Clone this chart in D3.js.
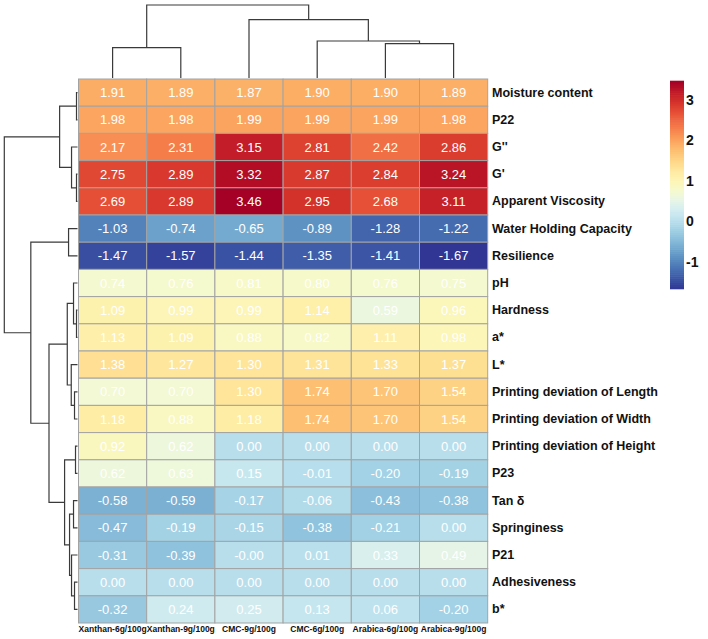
<!DOCTYPE html>
<html>
<head>
<meta charset="utf-8">
<script src="https://cdn.jsdelivr.net/npm/d3@7.9.0/dist/d3.min.js"></script>
<style>
  body { margin: 0; background: #fff; }
  text { font-family: "Liberation Sans", Arial, Helvetica, sans-serif; }
</style>
</head>
<body>
<svg id="chart" width="708" height="639"></svg>
<script>
const columns = ['Xanthan-6g/100g', 'Xanthan-9g/100g', 'CMC-9g/100g', 'CMC-6g/100g', 'Arabica-6g/100g', 'Arabica-9g/100g'];

const rowNames = ['Moisture content', 'P22', "G''", "G'", 'Apparent Viscosity', 'Water Holding Capacity',
  'Resilience', 'pH', 'Hardness', 'a*', 'L*', 'Printing deviation of Length', 'Printing deviation of Width',
  'Printing deviation of Height', 'P23', 'Tan δ', 'Springiness', 'P21', 'Adhesiveness', 'b*'];

const values = [
  [1.91, 1.89, 1.87, 1.90, 1.90, 1.89],
  [1.98, 1.98, 1.99, 1.99, 1.99, 1.98],
  [2.17, 2.31, 3.15, 2.81, 2.42, 2.86],
  [2.75, 2.89, 3.32, 2.87, 2.84, 3.24],
  [2.69, 2.89, 3.46, 2.95, 2.68, 3.11],
  [-1.03, -0.74, -0.65, -0.89, -1.28, -1.22],
  [-1.47, -1.57, -1.44, -1.35, -1.41, -1.67],
  [0.74, 0.76, 0.81, 0.80, 0.76, 0.75],
  [1.09, 0.99, 0.99, 1.14, 0.59, 0.96],
  [1.13, 1.09, 0.88, 0.82, 1.11, 0.98],
  [1.38, 1.27, 1.30, 1.31, 1.33, 1.37],
  [0.70, 0.70, 1.30, 1.74, 1.70, 1.54],
  [1.18, 0.88, 1.18, 1.74, 1.70, 1.54],
  [0.92, 0.62, 0.00, 0.00, 0.00, 0.00],
  [0.62, 0.63, 0.15, -0.01, -0.20, -0.19],
  [-0.58, -0.59, -0.17, -0.06, -0.43, -0.38],
  [-0.47, -0.19, -0.15, -0.38, -0.21, 0.00],
  [-0.31, -0.39, -0.004, 0.01, 0.33, 0.49],
  [0.00, 0.00, 0.00, 0.00, 0.00, 0.00],
  [-0.32, 0.24, 0.25, 0.13, 0.06, -0.20]
];

const legendTicks = [-1, 0, 1, 2, 3];

// clustering trees: node(mergeHeight, left, right), leaves are indices
function node(h, a, b) { return { h: h, children: [a, b] }; }

const colTree = node(73,
  node(30.3, 0, 1),
  node(58.3, 2, node(37, 3, node(34.3, 4, 5))));

const rowTree = node(73.7,
  node(18, node(1, 0, 1), node(6, 2, node(1, 3, 4))),
  node(47,
    node(9, 5, 6),
    node(28.7,
      node(10.3, node(4, 7, node(1, 8, 9)), node(6.3, 10, node(3, 11, 12))),
      node(13, node(2, 13, 14), node(8, node(4, 15, 16), node(6, 17, node(3, 18, 19)))))));

const svg = d3.select('#chart');

const gridLeft = 78.5, gridTop = 79, cellW = 68.2, cellH = 27.2;

let x = d3.scaleBand().domain(d3.range(columns.length)).range([gridLeft, gridLeft + cellW * columns.length]);
let y = d3.scaleBand().domain(d3.range(rowNames.length)).range([gridTop, gridTop + cellH * rowNames.length]);

const flat = values.flat();
const vmin = d3.min(flat), vmax = d3.max(flat);
let color = d3.scaleSequential((t) => d3.interpolateRdYlBu(1 - t)).domain([vmin, vmax]);

// cells
let cells = [];
values.forEach((row, r) => row.forEach((v, c) => cells.push({ r: r, c: c, v: v })));

svg.append('g').selectAll('rect')
  .data(cells)
  .join('rect')
  .attr('x', (d) => x(d.c))
  .attr('y', (d) => y(d.r))
  .attr('width', x.bandwidth())
  .attr('height', y.bandwidth())
  .attr('fill', (d) => color(d.v))
  .attr('stroke', '#a3a3a3')
  .attr('stroke-width', 1);

svg.append('g').selectAll('text')
  .data(cells)
  .join('text')
  .attr('x', (d) => x(d.c) + x.bandwidth() / 2)
  .attr('y', (d) => y(d.r) + y.bandwidth() / 2)
  .attr('text-anchor', 'middle')
  .attr('dominant-baseline', 'central')
  .attr('font-size', 13)
  .attr('fill', '#ffffff')
  .text((d) => d.v.toFixed(2));

// row labels
svg.append('g').selectAll('text')
  .data(rowNames)
  .join('text')
  .attr('x', 492)
  .attr('y', (d, i) => y(i) + y.bandwidth() / 2)
  .attr('dominant-baseline', 'central')
  .attr('font-size', 12.5)
  .attr('font-weight', 'bold')
  .attr('fill', '#111')
  .text((d) => d);

// column labels
svg.append('g').selectAll('text')
  .data(columns)
  .join('text')
  .attr('x', (d, i) => x(i) + x.bandwidth() / 2)
  .attr('y', 632)
  .attr('text-anchor', 'middle')
  .attr('font-size', 8.5)
  .attr('font-weight', 'bold')
  .attr('fill', '#111')
  .text((d) => d);

// dendrograms
function drawTree(g, nd, leafPos, hScale, horizontal) {
  if (typeof nd === 'number') return { p: leafPos(nd), h: 0 };
  let kids = nd.children.map((c) => drawTree(g, c, leafPos, hScale, horizontal));
  let a = kids[0], b = kids[1];
  let path;
  if (horizontal) {
    path = `M${a.p},${hScale(a.h)}V${hScale(nd.h)}H${b.p}V${hScale(b.h)}`;
  } else {
    path = `M${hScale(a.h)},${a.p}H${hScale(nd.h)}V${b.p}H${hScale(b.h)}`;
  }
  g.append('path').attr('d', path);
  return { p: (a.p + b.p) / 2, h: nd.h };
}

let colG = svg.append('g').attr('fill', 'none').attr('stroke', '#3a3a3a').attr('stroke-width', 1.2);
let colH = d3.scaleLinear().domain([0, colTree.h]).range([gridTop - 1, 5]);
drawTree(colG, colTree, (i) => x(i) + x.bandwidth() / 2, colH, true);

let rowG = svg.append('g').attr('fill', 'none').attr('stroke', '#3a3a3a').attr('stroke-width', 1.2);
let rowH = d3.scaleLinear().domain([0, rowTree.h]).range([gridLeft - 1, 4.3]);
drawTree(rowG, rowTree, (i) => y(i) + y.bandwidth() / 2, rowH, false);

// colour legend
let ly = d3.scaleLinear().domain([vmin, vmax]).range([289, 81]);
let steps = d3.range(100).map((i) => vmin + (vmax - vmin) * i / 100);
let stepH = (ly(vmin) - ly(vmax)) / 100;

svg.append('g').selectAll('rect')
  .data(steps)
  .join('rect')
  .attr('x', 670)
  .attr('y', (d) => ly(d) - stepH - 0.3)
  .attr('width', 14)
  .attr('height', stepH + 0.6)
  .attr('fill', (d) => color(d + (vmax - vmin) / 200));

svg.append('g').selectAll('text')
  .data(legendTicks)
  .join('text')
  .attr('x', 686)
  .attr('y', (d) => ly(d))
  .attr('dominant-baseline', 'central')
  .attr('font-size', 14)
  .attr('font-weight', 'bold')
  .attr('fill', '#111')
  .text((d) => d);
</script>
</body>
</html>
